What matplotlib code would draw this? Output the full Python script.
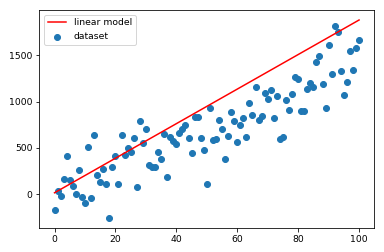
import matplotlib
matplotlib.use("Agg")
import matplotlib.pyplot as plt
import numpy as np

# data (x = 0..100)
x_values = list(range(101))
y_values = [
    -173, 36, -22, 159, 411, 152, 87, 0, 260, -36,
    -97, 509, -47, 638, 206, 130, 270, 108, -263, 289,
    411, 108, 638, 419, 498, 455, 606, 72, 786, 548,
    703, 314, 296, 289, 451, 375, 646, 184, 613, 577,
    541, 660, 700, 745, 603, 440, 830, 830, 603, 473,
    108, 927, 590, 600, 797, 700, 375, 624, 884, 786,
    559, 743, 819, 613, 981, 851, 1155, 797, 844, 1093,
    1025, 1122, 819, 1057, 592, 613, 1014, 906, 1079, 1266,
    1241, 895, 895, 1133, 1201, 1155, 1425, 1494, 1187, 927,
    1609, 1299, 1818, 1753, 1328, 1068, 1212, 1548, 1339, 1577,
    1663,
]
model_x = [0, 100]
model_y = [14, 1883]

plt.rcParams['font.size'] = 9.3
fig = plt.figure(figsize=(384 / 72, 252 / 72), dpi=72)
ax = fig.add_axes([0.1023, 0.094, 0.8724, 0.866])
ax.plot(model_x, model_y, color='red', label='linear model')
ax.scatter(x_values, y_values, label='dataset')
ax.legend(loc='upper left')
fig.savefig('out.png', dpi=72)
